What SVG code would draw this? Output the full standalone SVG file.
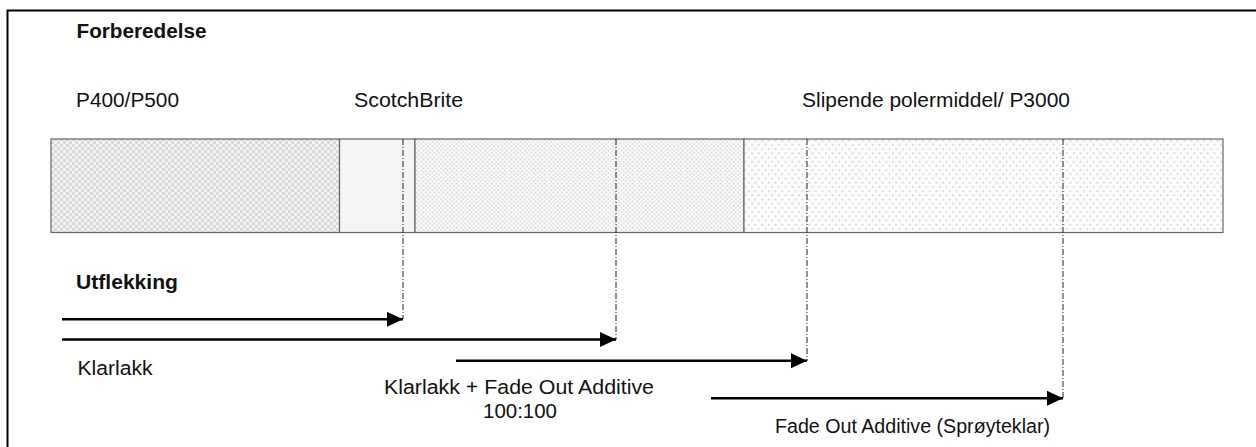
<svg xmlns="http://www.w3.org/2000/svg" width="1256" height="447" viewBox="0 0 1256 447">
<style>
text{font-family:"Liberation Sans",Arial,sans-serif;font-size:20px;fill:#111}
.b{font-weight:bold}
.bar{stroke:#666;stroke-width:1.2}
.dd{stroke:#222;stroke-width:1;stroke-dasharray:6,2,1,2;fill:none}
.ar{stroke:#000;stroke-width:2.6;fill:none;marker-end:url(#ah)}
</style>
<defs>
<pattern id="chk" width="6" height="6" patternUnits="userSpaceOnUse">
<rect width="6" height="6" fill="#f3f3f3"/>
<rect width="3" height="3" fill="#d9d9d9"/>
<rect x="3" y="3" width="3" height="3" fill="#d9d9d9"/>
</pattern>
<pattern id="dot1" width="4.4" height="4.4" patternUnits="userSpaceOnUse">
<rect width="4.4" height="4.4" fill="#fbfbfb"/>
<circle cx="1.1" cy="1.1" r="0.9" fill="#d0d0d0"/>
<circle cx="3.3" cy="3.3" r="0.9" fill="#d0d0d0"/>
</pattern>
<pattern id="dot2" width="6.7" height="8.4" patternUnits="userSpaceOnUse">
<rect width="6.7" height="8.4" fill="#fdfdfd"/>
<circle cx="1.7" cy="2.1" r="1" fill="#cfcfcf"/>
<circle cx="5.05" cy="6.3" r="1" fill="#cfcfcf"/>
</pattern>
<marker id="ah" markerUnits="userSpaceOnUse" markerWidth="18" markerHeight="16" refX="16" refY="7.5" orient="auto" viewBox="0 0 18 16">
<path d="M0,0 L16,7.5 L0,15 z" fill="#000"/>
</marker>
</defs>
<rect width="1256" height="447" fill="#fff"/>
<rect id="frame" x="7.5" y="10.5" width="1270" height="460" fill="none" stroke="#000" stroke-width="2"/>

<g id="bar">
<rect id="seg-p400" class="bar" x="51" y="139" width="288.5" height="93.5" fill="url(#chk)"/>
<rect id="seg-scotch" class="bar" x="339.5" y="139" width="75.5" height="93.5" fill="#f4f4f4"/>
<rect id="seg-fine" class="bar" x="415" y="139" width="329" height="93.5" fill="url(#dot1)"/>
<rect id="seg-polish" class="bar" x="744" y="139" width="479" height="93.5" fill="url(#dot2)"/>
</g>

<g id="labels">
<text class="b" x="76.5" y="38" textLength="130" lengthAdjust="spacingAndGlyphs">Forberedelse</text>
<text x="76" y="107" textLength="103" lengthAdjust="spacingAndGlyphs">P400/P500</text>
<text x="354" y="107" textLength="109" lengthAdjust="spacingAndGlyphs">ScotchBrite</text>
<text x="802" y="107" textLength="268" lengthAdjust="spacingAndGlyphs">Slipende polermiddel/ P3000</text>
<text class="b" x="76" y="289" textLength="102" lengthAdjust="spacingAndGlyphs">Utflekking</text>
<text x="77.5" y="375" textLength="75" lengthAdjust="spacingAndGlyphs">Klarlakk</text>
<text x="384" y="394" textLength="270" lengthAdjust="spacingAndGlyphs">Klarlakk + Fade Out Additive</text>
<text x="483" y="418" textLength="74" lengthAdjust="spacingAndGlyphs">100:100</text>
<text x="775" y="433" textLength="275" lengthAdjust="spacingAndGlyphs">Fade Out Additive (Sprøyteklar)</text>
</g>

<g id="connectors">
<line class="dd" x1="403" y1="139" x2="403" y2="319"/>
<line class="dd" x1="616" y1="139" x2="616" y2="340"/>
<line class="dd" x1="807" y1="139" x2="807" y2="361"/>
<line class="dd" x1="1063" y1="139" x2="1063" y2="398"/>
<line class="ar" x1="62" y1="319.3" x2="403" y2="319.3"/>
<line class="ar" x1="62" y1="339.5" x2="616" y2="339.5"/>
<line class="ar" x1="456" y1="360.7" x2="807" y2="360.7"/>
<line class="ar" x1="711" y1="398.3" x2="1063" y2="398.3"/>
</g>
</svg>
